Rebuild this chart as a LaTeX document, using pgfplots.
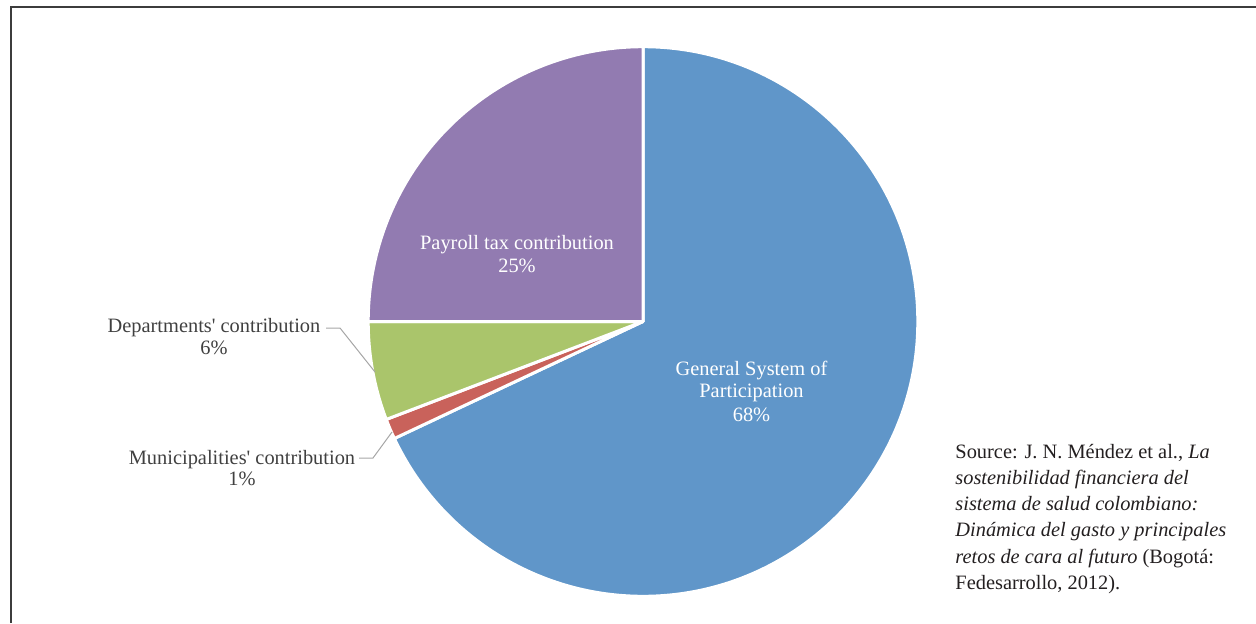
\documentclass[border=0pt]{standalone}
\usepackage{pgfplots}
\pgfplotsset{compat=1.18}
\usepackage{pgfplotstable}
\usepackage{fontspec}
\setmainfont{Liberation Serif}
\newfontfamily\plainserif{Liberation Serif}[Ligatures=TeXOff]

\definecolor{gspblue}{HTML}{6096C9}
\definecolor{munred}{HTML}{C9625B}
\definecolor{depgreen}{HTML}{AAC56B}
\definecolor{paypurple}{HTML}{927BB1}
\definecolor{labelgray}{HTML}{404040}
\definecolor{leadergray}{HTML}{A6A6A6}
\definecolor{framegray}{HTML}{3C3C3C}
\definecolor{srcblack}{HTML}{231F20}

% slice shares in percent, clockwise from 12 o'clock
\pgfplotstableread{
slice value
GSP 68
Mun 1.2
Dep 5.8
Pay 25
}\piedata

\begin{document}
\begin{tikzpicture}
\pgfplotstablegetelem{0}{value}\of\piedata \let\vA\pgfplotsretval
\pgfplotstablegetelem{1}{value}\of\piedata \let\vB\pgfplotsretval
\pgfplotstablegetelem{2}{value}\of\piedata \let\vC\pgfplotsretval
\pgfplotstablegetelem{3}{value}\of\piedata \let\vD\pgfplotsretval
\pgfmathsetmacro\aA{90}
\pgfmathsetmacro\aB{\aA-3.6*\vA}
\pgfmathsetmacro\aC{\aB-3.6*\vB}
\pgfmathsetmacro\aD{\aC-3.6*\vC}
\pgfmathsetmacro\aE{\aD-3.6*\vD}
\def\R{137.4pt}
\begin{axis}[at={(0,0)}, anchor=south west, scale only axis,
  width=628pt, height=311.5pt,
  xmin=0, xmax=1256, ymin=0, ymax=623,
  enlargelimits=false, hide axis, clip=false]
% frame
\draw[framegray, line width=1pt] (axis cs:11,0) -- (axis cs:11,616) -- (axis cs:1260,616);
% slices
\fill[gspblue, draw=white, line width=1.5pt, line join=round] (axis cs:643,301.5) -- ++(\aA:\R) arc[start angle=\aA, end angle=\aB, radius=\R] -- cycle;
\fill[munred, draw=white, line width=1.5pt, line join=round] (axis cs:643,301.5) -- ++(\aB:\R) arc[start angle=\aB, end angle=\aC, radius=\R] -- cycle;
\fill[depgreen, draw=white, line width=1.5pt, line join=round] (axis cs:643,301.5) -- ++(\aC:\R) arc[start angle=\aC, end angle=\aD, radius=\R] -- cycle;
\fill[paypurple, draw=white, line width=1.5pt, line join=round] (axis cs:643,301.5) -- ++(\aD:\R) arc[start angle=\aD, end angle=\aE, radius=\R] -- cycle;
% leader lines
\draw[leadergray, line width=0.5pt] (axis cs:326,295) -- (axis cs:340,295) -- (axis cs:375,251);
\draw[leadergray, line width=0.5pt] (axis cs:359,165) -- (axis cs:373,165) -- (axis cs:392,191);
% labels
\begin{scope}[every node/.style={inner sep=0pt, font=\fontsize{10.2}{12}\selectfont}]
\node[anchor=base, text=white] at (axis cs:517,374) {Payroll tax contribution};
\node[anchor=base, text=white] at (axis cs:517,351) {25\%};
\node[anchor=base, text=white] at (axis cs:751.5,248) {General System of};
\node[anchor=base, text=white] at (axis cs:751.5,226) {Participation};
\node[anchor=base, text=white] at (axis cs:751.5,202) {68\%};
\node[anchor=base, text=labelgray] at (axis cs:214,291) {\plainserif Departments' contribution};
\node[anchor=base, text=labelgray] at (axis cs:214,269) {6\%};
\node[anchor=base, text=labelgray] at (axis cs:242,159) {\plainserif Municipalities' contribution};
\node[anchor=base, text=labelgray] at (axis cs:242,138) {1\%};
% source
\node[anchor=base west, text=srcblack] at (axis cs:955,165) {Source: J. N. Méndez et al., \textit{La}};
\node[anchor=base west, text=srcblack] at (axis cs:955,139) {\textit{sostenibilidad financiera del}};
\node[anchor=base west, text=srcblack] at (axis cs:955,113) {\textit{sistema de salud colombiano:}};
\node[anchor=base west, text=srcblack] at (axis cs:955,87) {\textit{Dinámica del gasto y principales}};
\node[anchor=base west, text=srcblack] at (axis cs:955,60) {\textit{retos de cara al futuro} (Bogotá:};
\node[anchor=base west, text=srcblack] at (axis cs:955,34) {Fedesarrollo, 2012).};
\end{scope}
\end{axis}
\pgfresetboundingbox
\path (0,0) rectangle (628pt,311.5pt);
\end{tikzpicture}
\end{document}
